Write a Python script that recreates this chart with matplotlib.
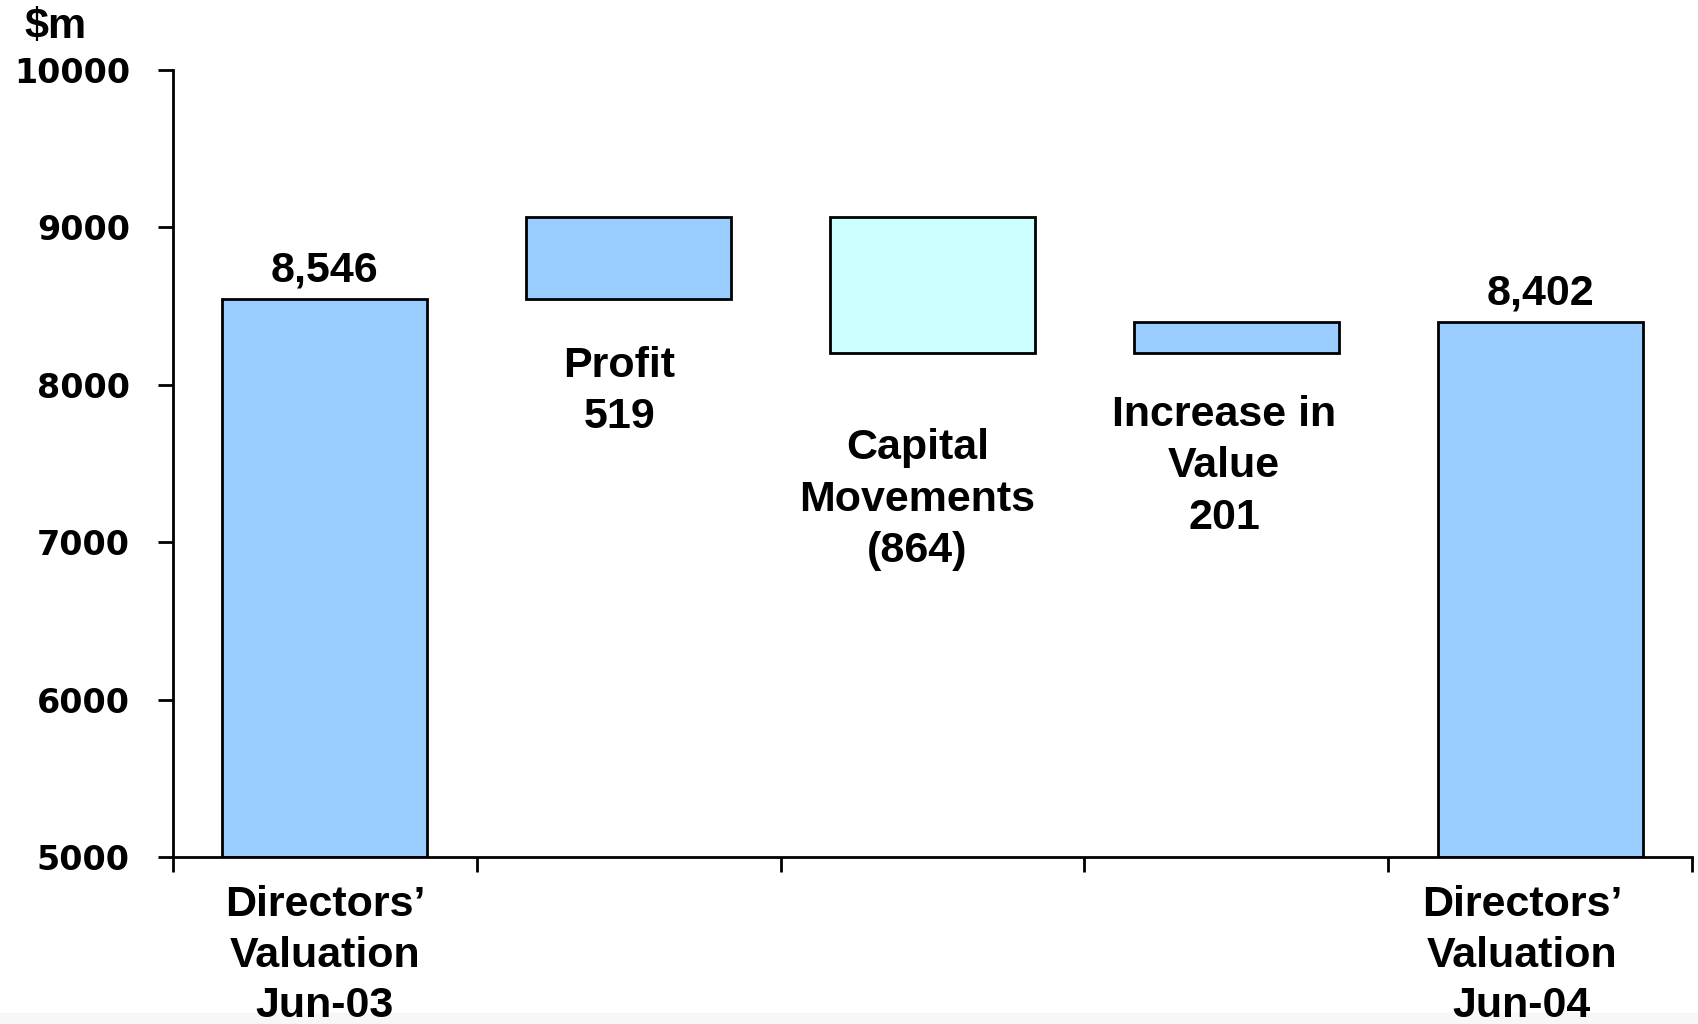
import numpy as np
import matplotlib
matplotlib.use('Agg')
import matplotlib.pyplot as plt
from matplotlib.patches import Rectangle

plt.rcParams['font.family'] = ['Liberation Sans', 'DejaVu Sans']
plt.rcParams['font.weight'] = 'bold'

# Data ($m)
opening = 8546
profit = 519
capital_movements = -864
increase_in_value = 201
closing = 8402

bar_names = ['Opening', 'Profit', 'Capital Movements', 'Increase in Value', 'Closing']
cat_labels = ["Directors\u2019\nValuation\nJun-03", "Directors\u2019\nValuation\nJun-04"]
float_labels = {1: 'Profit\n519', 2: 'Capital\nMovements\n(864)', 3: 'Increase in\nValue\n201'}
yticks = [5000, 6000, 7000, 8000, 9000, 10000]

# waterfall bottoms / heights
level1 = opening + profit
level2 = level1 + capital_movements
bottoms = [5000, opening, level2, level2, 5000]
heights = [opening - 5000, profit, level1 - level2, increase_in_value, closing - 5000]
colors = ['#99CCFF', '#99CCFF', '#CCFFFF', '#99CCFF', '#99CCFF']

fig = plt.figure(figsize=(16.99, 10.24), dpi=100)
# faint grey strip along the bottom edge
fig.add_artist(Rectangle((0, 0), 1, 11 / 1024, transform=fig.transFigure,
                         color='#f7f7f7', zorder=-5))
ax = fig.add_axes([0.1018, 0.1631, 0.8941, 0.7685])
ax.patch.set_alpha(0)

x = np.arange(len(bar_names))
ax.bar(x, heights, bottom=bottoms, width=0.674, color=colors,
       edgecolor='black', linewidth=2)

ax.set_xlim(-0.5, 4.5)
ax.set_ylim(5000, 10000)

# value labels on the totals
for i, v in [(0, opening), (4, closing)]:
    ax.annotate(f'{v:,}', xy=(x[i], v), xytext=(0, 6), textcoords='offset points',
                ha='center', va='bottom', fontsize=31, fontweight='bold')

# floating step labels
ax.text(0.97, 7956, float_labels[1], ha='center', va='center', fontsize=31,
        fontweight='bold', linespacing=1.37)
ax.text(1.95, 7271, float_labels[2], ha='center', va='center', fontsize=31,
        fontweight='bold', linespacing=1.37)
ax.text(2.96, 7484, float_labels[3], ha='center', va='center', fontsize=31,
        fontweight='bold', linespacing=1.37)

# axes styling
for s in ['top', 'right']:
    ax.spines[s].set_visible(False)
for s in ['left', 'bottom']:
    ax.spines[s].set_linewidth(2)

ax.set_yticks(yticks)
ax.set_yticklabels([str(t) for t in yticks], fontsize=24, fontweight='bold',
                   family='DejaVu Sans')
ax.tick_params(axis='y', direction='out', length=11, width=2, pad=20)

ax.set_xticks(np.arange(-0.5, 5, 1.0))
ax.set_xticklabels([])
ax.tick_params(axis='x', which='major', direction='out', length=11, width=2)
ax.set_xticks([0, 3.94], cat_labels, minor=True)
ax.tick_params(axis='x', which='minor', length=0, pad=20, labelsize=31)
for lbl in ax.get_xticklabels(minor=True):
    lbl.set_fontweight('bold')
    lbl.set_linespacing(1.35)

fig.text(24 / 1699, 0.993, '$m', ha='left', va='top', fontsize=31, fontweight='bold')

plt.savefig('out.png', dpi=100)
plt.close('all')
